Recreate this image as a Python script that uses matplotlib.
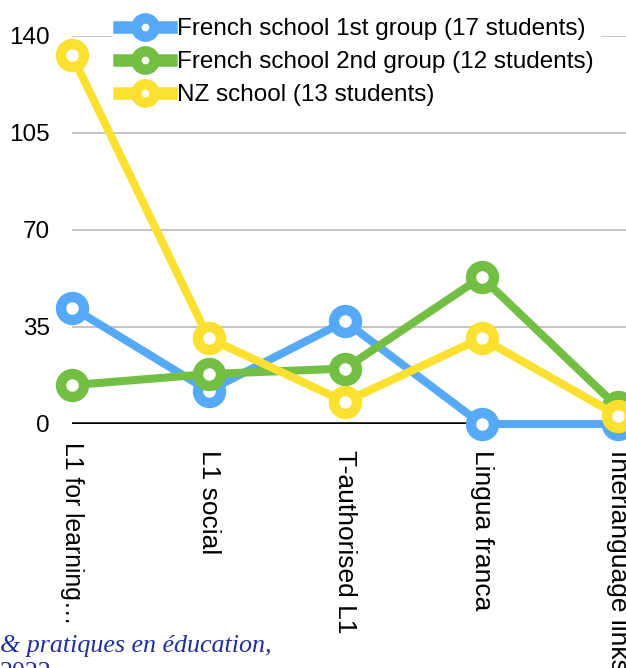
import matplotlib.pyplot as plt
import matplotlib.transforms as mtransforms

plt.rcParams['font.family'] = ['Liberation Sans', 'DejaVu Sans']

categories = ['L1 for learning…', 'L1 social', 'T-authorised L1', 'Lingua franca', 'Interlanguage links']
french_1st = [42, 12, 37, 0, 0]
french_2nd = [14, 18, 20, 53, 6]
nz_school = [133, 31, 8, 31, 3]
labels = ['French school 1st group (17 students)',
          'French school 2nd group (12 students)',
          'NZ school (13 students)']
colors = ['#56a9f6', '#72bf44', '#fbe02f']
yticks = [0, 35, 70, 105, 140]

W, H = 626, 668
fig = plt.figure(figsize=(W / 100, H / 100), dpi=100)
ax = fig.add_axes([72 / W, 1 - 424 / H, 1 - 72 / W, (424 - 35.7) / H])

x = list(range(len(categories)))
ax.axhline(0, color='black', lw=3.3, zorder=1)
for ys, c, lab in zip([french_1st, french_2nd, nz_school], colors, labels):
    ax.plot(x, ys, color=c, lw=5.8, marker='o', ms=16.5, mfc='white',
            mec=c, mew=7.5, label=lab, clip_on=False, zorder=3)

ax.set_xlim(0, 4 * (W - 72) / (618 - 72))
ax.set_ylim(0, 140)
ax.set_yticks(yticks)
ax.set_yticklabels([str(v) for v in yticks])
ax.yaxis.grid(True, color='#b4b4b4', lw=1.1)
ax.set_axisbelow(True)
ax.set_xticks(x)
ax.set_xticklabels(categories, rotation=270, ha='center', va='top')
ax.tick_params(axis='y', length=0, pad=16, labelsize=17.5)
ax.tick_params(axis='x', length=0, pad=19, labelsize=19)
for s in ax.spines.values():
    s.set_visible(False)

# first label sits a bit higher and runs a bit shorter in the original
first = ax.get_xticklabels()[0]
first.set_fontsize(17.8)
first.set_transform(first.get_transform() +
                    mtransforms.ScaledTranslation(0, 8 / 100, fig.dpi_scale_trans))

leg = fig.legend(loc='upper left', bbox_to_anchor=(112 / W, 1 - 11 / H),
                 fontsize=17.5, frameon=True, framealpha=1, facecolor='white',
                 edgecolor='none', fancybox=False, handlelength=2.14,
                 handletextpad=0.22, labelspacing=0.45, borderpad=0.3,
                 markerscale=0.8, borderaxespad=0)
for h in leg.legend_handles:
    h.set_linewidth(9)

fig.text(0, 1 - 652 / H, '& pratiques en éducation,', family='Liberation Serif',
         style='italic', fontsize=18.7, color='#1e2f9c', va='baseline')
fig.text(0, 1 - 662 / H, '2022', family='Liberation Serif', fontsize=18.7,
         color='#1e2f9c', va='top')

fig.savefig('out.png', dpi=100)
